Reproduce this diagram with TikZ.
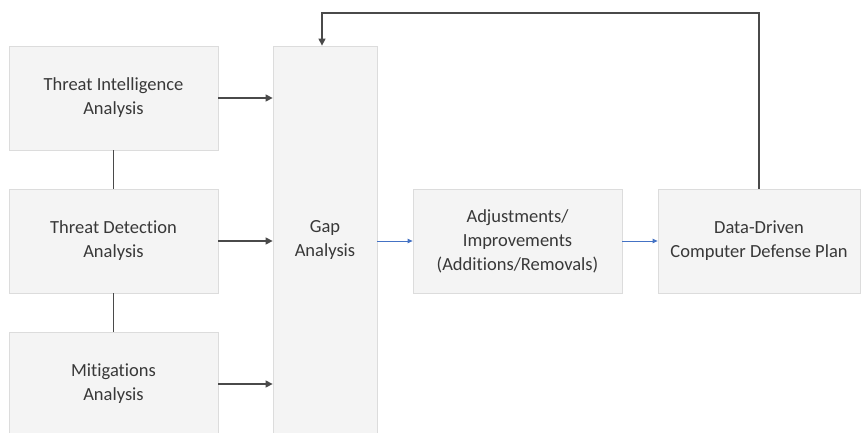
\documentclass[tikz,border=0pt]{standalone}
\usepackage{fontspec}
\setmainfont{Carlito}[RawFeature=-liga]
\usetikzlibrary{arrows.meta}
\definecolor{boxfill}{HTML}{F4F4F4}
\definecolor{boxline}{HTML}{DCDCDC}
\definecolor{txtgray}{HTML}{383838}
\definecolor{linkgray}{HTML}{4A4A4A}
\definecolor{flowblue}{HTML}{4472C4}
\begin{document}
\begin{tikzpicture}[x=1pt, y=-1pt,
    main/.style ={draw=boxline, fill=boxfill, line width=0.8pt, text=txtgray,
      align=center, inner sep=0pt, minimum width=209pt, minimum height=104pt,
      font=\fontsize{18.5}{24}\selectfont},
    link/.style ={draw=linkgray, line width=1.4pt},
    feed/.style ={link, -{Triangle[length=7pt, width=7pt]}},
    flow/.style ={draw=flowblue, line width=0.9pt, -{Triangle[length=5pt, width=4.5pt]}}]
        \useasboundingbox (0,0) rectangle (865,433);
        \clip (0,0) rectangle (865,433);
        \node[main] (1) at (113.5,98) {Threat Intelligence\\Analysis};
        \node[main] (2) at (113.5,241) {Threat Detection\\Analysis};
        \node[main] (3) at (113.5,384) {Mitigations\\Analysis};
        \node[main, minimum width=104pt, minimum height=388pt] (4) at (325,240) {Gap\\Analysis};
        \node[main] (5) at (517.5,241) {Adjustments/\\Improvements\\(Additions/Removals)};
        \node[main, minimum width=202pt] (6) at (759,241) {Data-Driven\\Computer Defense Plan};
        \coordinate (top) at (322,13);
        \draw[link] (1) -- (2);
        \draw[link] (2) -- (3);
        \draw[feed] (1.east) -- (1.east -| 4.west);
        \draw[feed] (2.east) -- (2.east -| 4.west);
        \draw[feed] (3.east) -- (3.east -| 4.west);
        \draw[flow] (4.east |- 5.west) -- (5.west);
        \draw[flow] (5) -- (6);
        \draw[feed] (6.north) |- (top) -- (top |- 4.north);
    \end{tikzpicture}
\end{document}
